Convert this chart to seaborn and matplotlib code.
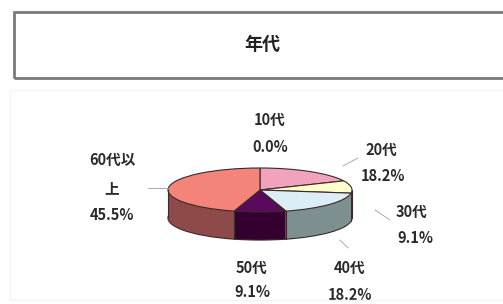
import matplotlib
matplotlib.use("Agg")
import matplotlib.pyplot as plt
import seaborn as sns
import numpy as np
from matplotlib.patches import Rectangle

# ---- data ----
categories = ["10代", "20代", "30代", "40代", "50代", "60代以上"]
values = [0.0, 18.2, 9.1, 18.2, 9.1, 45.5]
pct_labels = ["0.0%", "18.2%", "9.1%", "18.2%", "9.1%", "45.5%"]
title = "年代"

top_colors = ["#9999FF", "#F2A3BC", "#FFFFCC", "#DCEDF5", "#5A0A5A", "#F4837A"]
side_colors = ["#5C5C99", "#A06676", "#B5B58A", "#7D8F90", "#330030", "#8E4A48"]

sns.set_theme(style="white")
plt.rcParams["font.family"] = ["Noto Sans CJK JP", "DejaVu Sans"]

W, H = 503, 304
fig = plt.figure(figsize=(W / 100, H / 100), dpi=100)
ax = fig.add_axes([0, 0, 1, 1])

# pie geometry in pixels
cx, cy, a, b, thick = 260, 190, 92, 22, 28
T = thick / b

def P(px, py):
    return (px - cx) / a, (cy - py) / b

# side layers
N = 40
for k in range(N, 0, -1):
    ax.pie(values, colors=side_colors, startangle=90, counterclock=False,
           center=(0, -T * k / N), radius=1,
           wedgeprops=dict(linewidth=0.9 if k == N else 0,
                           edgecolor="#3a2a2a" if k == N else "none"))
# top
ax.pie(values, colors=top_colors, startangle=90, counterclock=False,
       center=(0, 0), radius=1,
       wedgeprops=dict(linewidth=0.8, edgecolor="#3a2a2a"))

# vertical edges on visible front boundaries
cum = np.cumsum(values) / np.sum(values)
for c in list(cum[:-1]):
    th = np.deg2rad(90 - 360 * c)
    if np.sin(th) < 0:
        x, y = np.cos(th), np.sin(th)
        ax.plot([x, x], [y, y - T], color="#3a2a2a", lw=0.8)
for x in (-1, 1):
    ax.plot([x, x], [0, -T], color="#3a2a2a", lw=0.8)

ax.set_aspect("auto")
ax.set_xlim((0 - cx) / a, (W - cx) / a)
ax.set_ylim((cy - H) / b, cy / b)
ax.axis("off")

# labels
tc = "#2a2a2a"
fs = 10.5
fw = "bold"
label_pos = {
    0: [(270, 120), (270, 147)],
    1: [(381, 150), (383, 176)],
    2: [(412, 212), (415, 238)],
    3: [(350, 268), (350, 295)],
    4: [(252, 268), (252, 292)],
}
for i, pts in label_pos.items():
    ax.text(*P(*pts[0]), categories[i], ha="center", va="center", fontsize=fs, color=tc, fontweight=fw)
    ax.text(*P(*pts[1]), pct_labels[i], ha="center", va="center", fontsize=fs, color=tc, fontweight=fw)
# wrapped 60代以上
ax.text(*P(112, 160), categories[5][:4], ha="center", va="center", fontsize=fs, color=tc, fontweight=fw)
ax.text(*P(112, 188), categories[5][4:], ha="center", va="center", fontsize=fs, color=tc, fontweight=fw)
ax.text(*P(112, 215), pct_labels[5], ha="center", va="center", fontsize=fs, color=tc, fontweight=fw)

# leader lines
lc = "#aaaaaa"
for (x0, y0), (x1, y1) in [((148, 188), (168, 188)),
                           ((343, 166), (358, 158)),
                           ((375, 210), (390, 220)),
                           ((340, 240), (348, 248))]:
    p0, p1 = P(x0, y0), P(x1, y1)
    ax.plot([p0[0], p1[0]], [p0[1], p1[1]], color=lc, lw=0.7)

# plot area faint border
fig.patches.append(Rectangle((10 / W, 1 - 300 / H), 600 / W, 210 / H,
                             transform=fig.transFigure, fill=False,
                             edgecolor="#f4f4f4", lw=1))
# title box
fig.patches.append(Rectangle((14 / W, 1 - 78 / H), 600 / W, 66 / H,
                             transform=fig.transFigure, fill=False,
                             edgecolor="#7a7a7a", lw=2))
fig.text(262 / W, 1 - 44 / H, title, ha="center", va="center",
         fontsize=13, fontweight="bold", color="#222222")

fig.savefig("out.png", dpi=100)
